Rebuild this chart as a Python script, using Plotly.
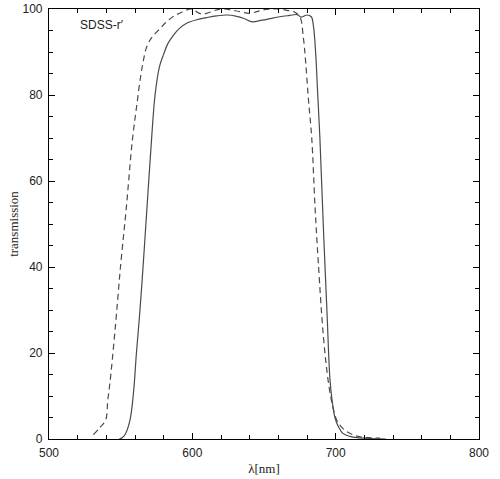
import plotly.graph_objects as go

# Solid curve (filter transmission)
wl_solid = [549, 551, 553, 556.5, 559, 561, 563, 565, 568, 571, 574, 577, 580, 583, 587, 591,
            596, 603, 610, 617, 624, 631, 636, 642, 647, 652, 661, 668, 673, 676, 680, 683,
            684.5, 686, 687.5, 689, 691.5, 694, 696, 697.5, 699.5, 702, 705, 710, 715, 725, 735]
tr_solid = [0, 0.3, 1, 4.4, 11, 20, 28, 37, 52, 67, 80, 86.5, 89.5, 92, 94, 95.5,
            96.7, 97.5, 98.0, 98.4, 98.6, 98.3, 97.8, 97.0, 97.3, 97.6, 98.2, 98.5, 98.7, 98.1, 98.6, 98.2,
            96, 90, 80, 70, 48.6, 29, 14, 9, 5, 2.8, 1.3, 0.6, 0.3, 0.1, 0]

# Dashed curve
wl_dash = [531, 535, 539.5, 541, 542.5, 546, 550, 554, 558, 561, 565, 568.5, 572, 577, 582, 587,
           593, 599.5, 605, 610, 616, 621.5, 630, 640, 645, 649.5, 655, 661, 666, 670.5, 675, 677.4,
           679, 681, 683.3, 685.6, 687.9, 691.4, 695, 698, 700.7, 704, 707.7, 712, 717, 723, 731]
tr_dash = [1, 2.5, 4.4, 9, 13, 25, 40.5, 54, 69, 77, 86.5, 91.5, 93.5, 95.3, 97, 98.3,
           99.3, 100, 99, 99, 99.7, 100, 99.6, 99, 99.4, 99.8, 100, 100, 99.7, 99.4, 98.2, 93.5,
           88, 79, 70, 54, 41, 24, 13, 7.5, 4.4, 2.8, 1.7, 1, 0.5, 0.3, 0.2]

x_ticks = [500, 600, 700, 800]
y_ticks = [0, 20, 40, 60, 80, 100]
label = "SDSS-r′"

line_col = "#4a4a4a"
fig = go.Figure()
fig.add_trace(go.Scatter(x=wl_dash, y=tr_dash, mode="lines",
                         line=dict(color=line_col, width=1.2, dash="6px,4px"),
                         line_shape="spline", showlegend=False))
fig.add_trace(go.Scatter(x=wl_solid, y=tr_solid, mode="lines",
                         line=dict(color=line_col, width=1.2),
                         line_shape="spline", showlegend=False))

tickfont = dict(family="Liberation Sans, Arial, sans-serif", size=12, color="#222")
fig.update_layout(
    width=500, height=479,
    margin=dict(l=49, r=21, t=9, b=40),
    paper_bgcolor="white", plot_bgcolor="white",
    xaxis=dict(range=[500, 800], tickvals=x_ticks, ticks="inside", ticklen=6, tickcolor="black",
               showline=True, linecolor="black", linewidth=1.2, mirror="allticks",
               showgrid=False, zeroline=False, tickfont=tickfont, automargin=False,
               ticklabelstandoff=2,
               minor=dict(dtick=20, tick0=500, ticks="inside", ticklen=4, tickcolor="black"),
               title=dict(text="λ[nm]", font=dict(family="Liberation Serif, serif", size=13, color="#222"),
                          standoff=5)),
    yaxis=dict(range=[0, 100], tickvals=y_ticks, ticks="inside", ticklen=6, tickcolor="black",
               showline=True, linecolor="black", linewidth=1.2, mirror="allticks",
               showgrid=False, zeroline=False, tickfont=tickfont, automargin=False,
               ticklabelstandoff=3,
               minor=dict(dtick=5, tick0=0, ticks="inside", ticklen=4, tickcolor="black"),
               title=dict(text="transmission", font=dict(family="Liberation Serif, serif", size=13, color="#222"),
                          standoff=0)),
    annotations=[dict(x=520, y=96.3, xref="x", yref="y", text=label, showarrow=False,
                      xanchor="left", yanchor="middle",
                      font=dict(family="Liberation Sans, Arial, sans-serif", size=12, color="#222"))],
)
fig.write_html("out.html", config={"displayModeBar": False},
               post_script="document.body.style.margin='0';document.body.style.overflow='hidden';")
